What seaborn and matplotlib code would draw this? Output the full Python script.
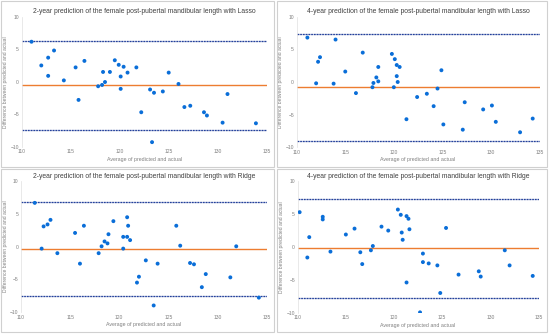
import matplotlib
matplotlib.use("Agg")
import matplotlib.pyplot as plt
import seaborn as sns
import pandas as pd
from matplotlib.patches import Rectangle

sns.set_style("white")
plt.rcParams['font.family'] = ['Liberation Sans', 'DejaVu Sans']

titles = [
    "2-year prediction of the female post-pubertal mandibular length with Lasso",
    "4-year prediction of the female post-pubertal mandibular length with Lasso",
    "2-year prediction of the female post-pubertal mandibular length with Ridge",
    "4-year prediction of the female post-pubertal mandibular length with Ridge",
]

lasso2_x = [111.0, 112.0, 112.7, 112.7, 113.3, 114.3, 115.5, 115.8, 116.4, 117.8, 118.2, 118.3,
            118.5, 119.0, 119.5, 119.9, 120.1, 120.1, 120.4, 120.8, 121.7, 122.2, 123.1, 123.3,
            123.5, 124.4, 125.0, 126.0, 126.6, 127.2, 128.6, 128.9, 130.5, 131.0, 133.9]
lasso2_y = [6.15, 2.5, 3.7, 0.9, 4.8, 0.2, 2.2, -2.8, 3.2, -0.7, -0.5, 1.5,
            -0.05, 1.5, 3.3, 2.6, -1.1, 0.8, 2.3, 1.4, 2.2, -4.7, -1.2, -9.3,
            -1.7, -1.5, 1.4, -0.35, -3.9, -3.7, -4.7, -5.2, -6.3, -1.9, -6.4]

lasso4_x = [111.1, 112.0, 112.2, 112.4, 113.8, 114.0, 115.0, 116.1, 116.8, 117.8, 117.9, 118.2,
            118.4, 118.4, 119.8, 120.0, 120.1, 120.3, 120.3, 120.4, 120.6, 121.3, 122.4, 123.4,
            124.1, 124.5, 124.9, 125.1, 127.1, 127.3, 129.2, 130.1, 130.5, 133.0, 134.3]
lasso4_y = [6.8, -0.2, 3.1, 3.8, -0.25, 6.5, 1.6, -1.7, 4.5, -0.8, -0.15, 0.7,
            0.1, 2.3, 4.3, -0.8, 3.5, 2.6, 0.9, 0.0, 2.3, -5.7, -2.3, -1.8,
            -3.7, -1.0, 1.8, -6.5, -7.3, -3.1, -4.2, -3.6, -6.1, -7.7, -5.6]

ridge2_x = [111.4, 112.1, 112.3, 112.7, 113.0, 113.7, 115.5, 116.0, 116.4, 117.9, 118.2, 118.5,
            118.8, 118.9, 119.4, 120.4, 120.4, 120.8, 120.8, 120.9, 121.1, 121.8, 122.0, 122.7,
            123.5, 123.9, 125.8, 126.2, 127.2, 127.6, 128.4, 128.8, 131.3, 131.9, 134.2]
ridge2_y = [6.7, -0.3, 3.1, 3.4, 4.1, -1.0, 2.1, -2.6, 3.2, -1.0, 0.05, 0.8,
            0.5, 1.9, 3.9, 1.5, -0.3, 1.5, 4.5, 3.2, 1.0, -5.5, -4.6, -2.1,
            -9.0, -2.6, 3.2, 0.15, -2.5, -2.7, -6.2, -4.2, -4.7, 0.05, -7.8]

ridge4_x = [110.2, 111.0, 111.2, 112.6, 112.6, 113.4, 115.0, 115.9, 116.5, 116.7, 117.6, 117.8,
            118.7, 119.4, 120.4, 120.7, 120.8, 120.9, 121.3, 121.3, 121.5, 121.6, 122.7, 123.0,
            123.0, 123.6, 124.5, 124.8, 125.4, 126.7, 128.8, 129.0, 131.5, 132.0, 134.4]
ridge4_y = [5.3, -1.6, 1.5, 4.6, 4.2, -0.7, 1.9, 2.8, -0.8, -2.6, -0.5, 0.15,
            3.1, 2.5, 5.7, 4.9, 2.2, 1.1, 4.7, -5.4, 4.3, 2.7, -9.95, -1.0,
            -2.3, -2.5, -2.8, -7.0, 2.9, -4.2, -3.7, -4.5, -0.5, -2.8, -4.4]

mean_bias = [-0.56, -0.8, -0.3, -0.15]
upper_loa = [6.3, 7.35, 6.85, 7.25]
lower_loa = [-7.4, -9.0, -7.55, -7.75]

xs = [lasso2_x, lasso4_x, ridge2_x, ridge4_x]
ys = [lasso2_y, lasso4_y, ridge2_y, ridge4_y]

W, H = 550, 334
fig = plt.figure(figsize=(5.5, 3.34), dpi=100)

boxes = [(1, 1, 274, 167), (277, 1, 547, 167), (1, 169, 274, 332), (277, 169, 547, 332)]
areas = [(21.7, 16.7, 266.7, 146.7), (296.7, 16.7, 539.5, 147.3),
         (21.0, 181.3, 266.7, 312.0), (297.7, 181.3, 538.5, 312.7)]

for b in boxes:
    l, t, r, bt = b
    fig.patches.append(Rectangle((l / W, 1 - bt / H), (r - l) / W, (bt - t) / H,
                                 transform=fig.transFigure, fill=False,
                                 edgecolor="#d0d0d0", linewidth=0.8))

gray = "#808080"
for i in range(4):
    l, t, r, bt = areas[i]
    ax = fig.add_axes([l / W, 1 - bt / H, (r - l) / W, (bt - t) / H])
    df = pd.DataFrame({"avg": xs[i], "diff": ys[i]})
    ax.axhline(mean_bias[i], color="#ED7D31", linewidth=1.0, zorder=1)
    for v in (upper_loa[i], lower_loa[i]):
        ax.axhline(v, color="#b4bfdf", linewidth=0.9, zorder=1)
        ax.axhline(v, color="#24409a", linewidth=0.9, linestyle=(0, (1.3, 0.9)), zorder=2)
    sns.scatterplot(data=df, x="avg", y="diff", ax=ax, color="#0A6ED8", s=8,
                    marker="o", edgecolor="none", zorder=3)
    ax.set_xlim(110, 135)
    ax.set_ylim(-10, 10)
    ax.set_xticks([110, 115, 120, 125, 130, 135])
    ax.set_yticks([-10, -5, 0, 5, 10])
    ax.tick_params(axis="both", labelsize=3.6, colors=gray, length=0, pad=2)
    for s in ["top", "right", "bottom"]:
        ax.spines[s].set_visible(False)
    ax.spines["left"].set_color("#e0e0e0")
    ax.spines["left"].set_linewidth(0.5)
    ax.set_xlabel("Average of predicted and actual", fontsize=3.8, color=gray, labelpad=1.5)
    ax.set_ylabel("Difference between predicted and actual", fontsize=3.6, color=gray, labelpad=1.5)
    ax.set_facecolor("none")
    ax.text(0.5, 1.0 + 1.5 / (bt - t), titles[i], transform=ax.transAxes,
            ha="center", va="bottom", fontsize=4.85, color="#404040")

fig.savefig("out.png", dpi=100)
